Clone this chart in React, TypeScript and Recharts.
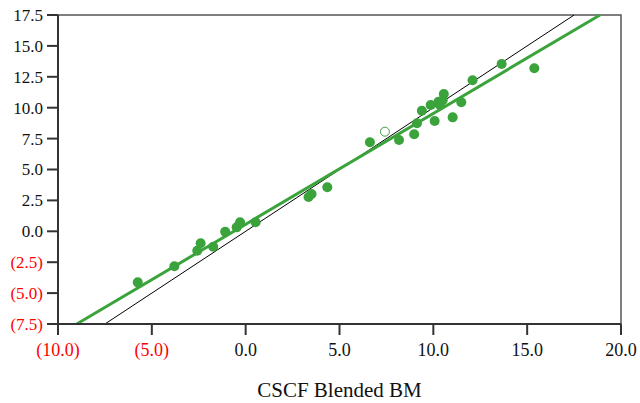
import React from 'react';
import {
  ScatterChart,
  Scatter,
  XAxis,
  YAxis,
  ReferenceLine,
  ReferenceArea,
} from 'recharts';

// observed points (CSCF Blended BM vs. actual)
const pointX = [
  -5.75, -3.8, -2.58, -2.4, -1.73, -1.09, -0.48, -0.3, 0.53, 3.35, 3.51, 4.35,
  6.62, 8.17, 8.98, 9.13, 9.39, 9.86, 10.07, 10.28, 10.35, 10.5, 10.56, 11.03,
  11.49, 12.09, 13.64, 15.38,
];
const pointY = [
  -4.13, -2.83, -1.57, -0.97, -1.25, -0.03, 0.32, 0.73, 0.73, 2.78, 3.02, 3.56,
  7.2, 7.39, 7.85, 8.74, 9.76, 10.22, 8.92, 10.49, 10.22, 10.6, 11.11, 9.22,
  10.44, 12.22, 13.54, 13.19,
];

// hollow (excluded) point
const openX = [7.42];
const openY = [8.06];

// fit line endpoints and 45 degree reference
const fitX = [-9.0, 18.88];
const fitY = [-7.5, 17.5];
const diagX = [-7.5, 17.5];
const diagY = [-7.5, 17.5];

const xTicks = [-10, -5, 0, 5, 10, 15, 20];
const yTicks = [-7.5, -5, -2.5, 0, 2.5, 5, 7.5, 10, 12.5, 15, 17.5];

const GREEN = '#3ba33b';
const FONT = 'Liberation Serif, DejaVu Serif, serif';

const points = pointX.map((x, i) => ({ x, y: pointY[i] }));
const openPoints = openX.map((x, i) => ({ x, y: openY[i] }));

const fmt = (v: number) =>
  v < 0 ? `(${Math.abs(v).toFixed(1)})` : v.toFixed(1);

function XTick(props: any) {
  const { x, y, payload } = props;
  const v = payload.value as number;
  return (
    <text
      x={x}
      y={y}
      dy="0.71em"
      textAnchor="middle"
      fontFamily={FONT}
      fontSize={18}
      fill={v < 0 ? '#ff0000' : '#111'}
    >
      {fmt(v)}
    </text>
  );
}

function YTick(props: any) {
  const { x, y, payload } = props;
  const v = payload.value as number;
  return (
    <text
      x={x}
      y={y}
      dy="0.35em"
      textAnchor="end"
      fontFamily={FONT}
      fontSize={17}
      fill={v < 0 ? '#ff0000' : '#111'}
    >
      {fmt(v)}
    </text>
  );
}

const dot = (p: any) => <circle cx={p.cx} cy={p.cy} r={5} fill={GREEN} />;
const openDot = (p: any) => (
  <circle cx={p.cx} cy={p.cy} r={4.5} fill="#fff" stroke={GREEN} strokeWidth={1} />
);

export default function App() {
  return (
    <div
      style={{
        position: 'absolute',
        left: 0,
        top: 0,
        width: 640,
        height: 403,
        background: '#fff',
        fontFamily: FONT,
      }}
    >
      <ScatterChart
        width={640}
        height={403}
        margin={{ top: 15, right: 19, left: 8, bottom: 0 }}
        style={{ fontFamily: FONT }}
      >
        <ReferenceArea
          x1={-10}
          x2={20}
          y1={-7.5}
          y2={17.5}
          fill="none"
          stroke="#555"
          strokeWidth={1.5}
          fillOpacity={0}
        />
        <XAxis
          type="number"
          dataKey="x"
          domain={[-10, 20]}
          ticks={xTicks}
          interval={0}
          height={79}
          tickSize={11}
          tickMargin={8}
          stroke="#333"
          strokeWidth={2}
          tick={(p: any) => <XTick {...p} />}
          label={{
            value: 'CSCF Blended BM',
            position: 'insideBottom',
            offset: 6,
            fontFamily: FONT,
            fontSize: 21,
            fill: '#111',
          }}
        />
        <YAxis
          type="number"
          dataKey="y"
          domain={[-7.5, 17.5]}
          ticks={yTicks}
          interval={0}
          width={50}
          tickSize={11}
          tickMargin={4}
          stroke="#333"
          strokeWidth={2}
          tick={(p: any) => <YTick {...p} />}
        />
        <ReferenceLine
          segment={[
            { x: diagX[0], y: diagY[0] },
            { x: diagX[1], y: diagY[1] },
          ]}
          stroke="#000"
          strokeWidth={1}
        />
        <ReferenceLine
          segment={[
            { x: fitX[0], y: fitY[0] },
            { x: fitX[1], y: fitY[1] },
          ]}
          stroke={GREEN}
          strokeWidth={3}
        />
        <Scatter data={points} shape={dot} isAnimationActive={false} />
        <Scatter data={openPoints} shape={openDot} isAnimationActive={false} />
      </ScatterChart>
    </div>
  );
}
